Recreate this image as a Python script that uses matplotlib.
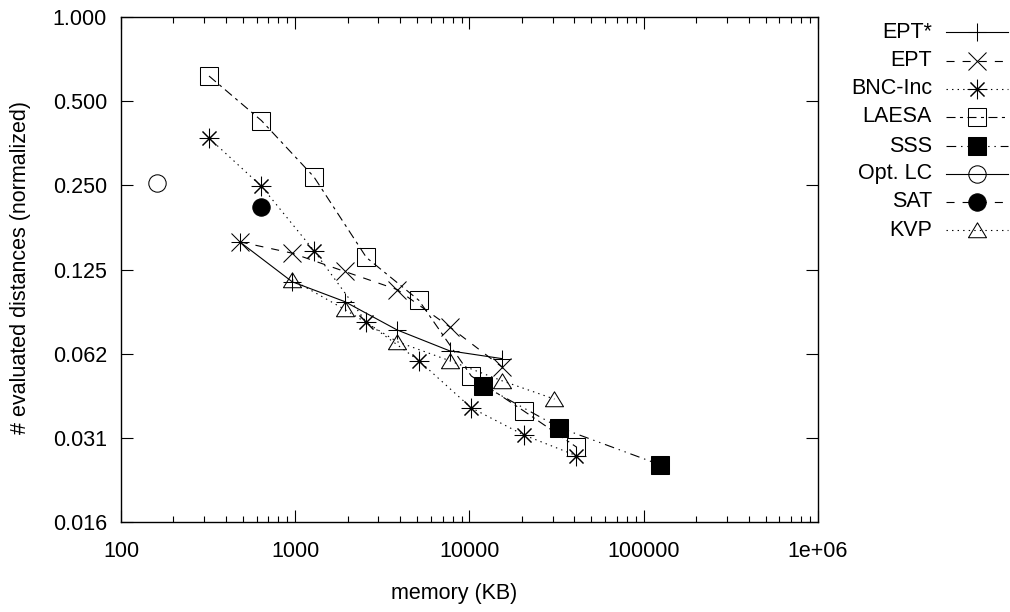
import matplotlib
matplotlib.use("Agg")
import matplotlib.pyplot as plt
from matplotlib.lines import Line2D
from matplotlib.path import Path
from matplotlib.ticker import FixedLocator, NullLocator, LogLocator, FixedFormatter

plt.rcParams["font.family"] = ["Liberation Sans", "DejaVu Sans"]
plt.rcParams["lines.scale_dashes"] = False

# memory (KB) per configuration
mem_ept = [480, 960, 1920, 3840, 7680, 15360]
mem_pivots = [320, 640, 1280, 2560, 5120, 10240, 20480, 40960]
mem_sss = [12000, 32800, 124700]
mem_optlc = [160]
mem_sat = [640]
mem_kvp = [960, 1920, 3840, 7680, 15360, 30720]

# evaluated distances (normalized)
ept_star = [0.157, 0.113, 0.096, 0.076, 0.064, 0.060]
ept = [0.157, 0.143, 0.123, 0.106, 0.078, 0.056]
bnc_inc = [0.369, 0.248, 0.146, 0.081, 0.059, 0.040, 0.032, 0.027]
laesa = [0.615, 0.426, 0.268, 0.138, 0.097, 0.052, 0.039, 0.029]
sss = [0.048, 0.034, 0.025]
optlc = [0.254]
sat = [0.209]
kvp = [0.115, 0.090, 0.069, 0.059, 0.050, 0.043]

ytick_vals = [1.0, 0.5, 0.25, 0.125, 0.0625, 0.03125, 0.015625]
xtick_vals = [100, 1000, 10000, 100000, 1000000]
xtick_labels = ["100", "1000", "10000", "100000", "1e+06"]

# line styles (dash patterns in points)
solid = "-"
dashed = (0, (5.8, 5.8))
dotted = (0, (1.0, 3.0))
dashdot = (0, (6.5, 3.2, 2.2, 3.2))
dashdotdot = (0, (7.0, 3.5, 1.0, 3.5, 1.0, 3.5))

star = (8, 2, 0)
tri = Path([(0, 0.85), (-1, -0.8), (1, -0.8), (0, 0.85)],
           [Path.MOVETO, Path.LINETO, Path.LINETO, Path.CLOSEPOLY])

# name, x, y, line style, marker, fill, marker size
series = [
    ("EPT*", mem_ept, ept_star, solid, "+", "none", 13),
    ("EPT", mem_ept, ept, dashed, "x", "none", 12.5),
    ("BNC-Inc", mem_pivots, bnc_inc, dotted, star, "none", 14),
    ("LAESA", mem_pivots, laesa, dashdot, "s", "none", 12.5),
    ("SSS", mem_sss, sss, dashdotdot, "s", "black", 12.5),
    ("Opt. LC", mem_optlc, optlc, solid, "o", "none", 12.5),
    ("SAT", mem_sat, sat, dashed, "o", "black", 12.5),
    ("KVP", mem_kvp, kvp, dotted, tri, "none", 13),
]

W, H = 1010, 612
fs = 15.5
fig = plt.figure(figsize=(W / 100, H / 100), dpi=100)
ax = fig.add_axes([121 / W, 1 - 522 / H, 697 / W, 505 / H])

lw = 0.8
for name, xs, ys, ls, mk, fc, ms in series:
    ax.plot(xs, ys, color="black", linestyle=ls, linewidth=lw, marker=mk,
            markersize=ms, markerfacecolor=fc, markeredgecolor="black",
            markeredgewidth=0.75)

ax.set_xscale("log")
ax.set_yscale("log", base=2)
ax.set_xlim(100, 1e6)
ax.set_ylim(1 / 64, 1)

ax.xaxis.set_major_locator(FixedLocator(xtick_vals))
ax.xaxis.set_major_formatter(FixedFormatter(xtick_labels))
ax.xaxis.set_minor_locator(LogLocator(base=10, subs=range(2, 10)))
ax.yaxis.set_major_locator(FixedLocator(ytick_vals))
ax.yaxis.set_major_formatter(FixedFormatter(["%.3f" % v for v in ytick_vals]))
ax.yaxis.set_minor_locator(NullLocator())

ax.tick_params(which="both", direction="in", top=True, right=True, width=0.8)
ax.tick_params(which="major", length=8.5, labelsize=fs)
ax.tick_params(which="minor", length=4.3)
ax.tick_params(axis="x", pad=14)
ax.tick_params(axis="y", pad=10)
for sp in ax.spines.values():
    sp.set_linewidth(1.0)

fig.text(454 / W, 1 - 593 / H, "memory (KB)", ha="center", va="center", fontsize=fs)
fig.text(21 / W, 1 - 268 / H, "# evaluated distances (normalized)", ha="center",
         va="center", rotation=90, fontsize=fs)

# key on the right
row_y = [32, 61, 89, 117, 146, 174, 202, 230]
for (name, xs, ys, ls, mk, fc, ms), py in zip(series, row_y):
    yf = 1 - py / H
    fig.text(932 / W, yf, name, ha="right", va="center", fontsize=fs)
    fig.add_artist(Line2D([946 / W, 1008 / W], [yf, yf], transform=fig.transFigure,
                          color="black", linestyle=ls, linewidth=lw))
    fig.add_artist(Line2D([977 / W], [yf], transform=fig.transFigure, color="black",
                          linestyle="none", marker=mk, markersize=ms,
                          markerfacecolor=fc, markeredgecolor="black",
                          markeredgewidth=0.75))

fig.savefig("out.png", dpi=100)
